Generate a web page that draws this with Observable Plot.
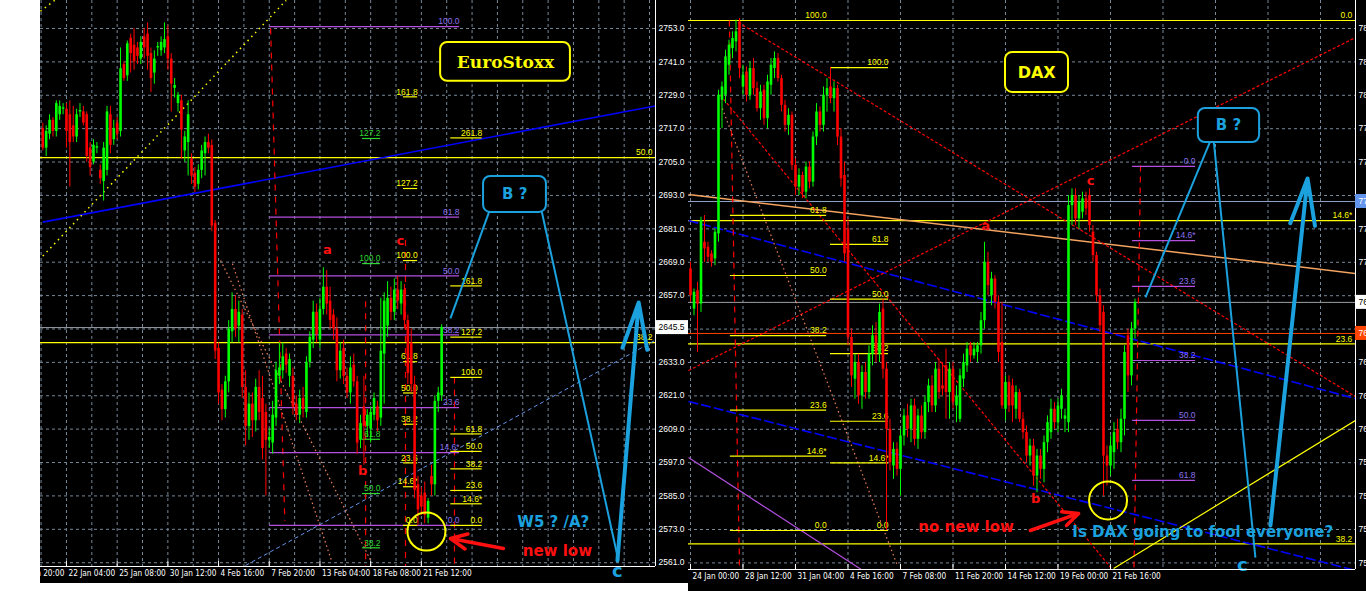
<!DOCTYPE html>
<html>
<head>
<meta charset="utf-8">
<script src="https://cdn.jsdelivr.net/npm/d3@7"></script>
<script src="https://cdn.jsdelivr.net/npm/@observablehq/plot@0.6"></script>
<style>
  html, body { margin: 0; padding: 0; background: #fff; width: 1366px; height: 591px; overflow: hidden; }
  #es  { position: absolute; left: 40px;  top: 0; width: 648px; height: 583px; background: #000; overflow: hidden; }
  #dax { position: absolute; left: 688px; top: 0; width: 720px; height: 591px; background: #000; overflow: hidden; }
  svg { display: block; }
</style>
</head>
<body>
<div id="es"></div>
<div id="dax"></div>
<script>
// ---------------- EuroStoxx 50, H4 bars ----------------
const esOpen = [
  2717,2710,2715,2720,2716,2722,2724,2724,2722,2718,2714,2723,2723,2722,2710,2705,2710,2702,2698,2702,
  2722,2713,2719,2716,2740,2736,2749.5,2747,2746,2742,2750,2751,2744,2737,2746,2745,2746,2750,2742,2731.5,
  2726,2727,2709,2712,2706,2701,2697,2702,2708,2712,2711,2683,2638,2623,2616,2626,2644,2652,2646,2650,
  2624,2610,2618,2612,2624,2620,2615,2605,2604,2613,2628,2630,2636,2628,2628,2618,2614,2620,2615,2633,
  2641,2651,2641,2652,2660,2655,2650,2645,2630,2638,2628,2622,2632,2626,2605,2617,2610,2609,2614,2617,
  2613,2636,2646,2656,2651,2659,2654,2659,2648,2640,2625,2589,2585,2586,2577,2592,2589,2619,2621
];
const esHigh = [
  2719,2718,2722,2721,2727,2727,2726,2726,2727,2725,2724,2726,2725,2723,2712,2713,2712,2704,2712,2725,
  2725,2720,2721,2746,2741,2748.5,2751,2753,2748,2750,2753,2755,2746,2745,2748,2750,2755,2754,2744,2735,
  2730,2729,2716,2727,2708,2703,2704,2711,2714,2715,2713,2684,2640,2625,2628,2648,2658,2657,2655,2652,
  2630,2622,2622,2627,2630,2628,2618,2609,2619,2633,2640,2640,2638,2636,2631,2621,2623,2624,2635,2644,
  2655,2654,2656,2667,2666,2660,2652,2649,2640,2641,2631,2635,2636,2628,2614,2628,2616,2617,2622,2619,
  2656,2658,2662,2660,2663,2664,2662,2661,2650,2645,2628,2592,2588,2590,2584,2596,2621,2624,2646.5
];
const esLow = [
  2709,2707,2713,2714,2714,2720,2722,2710,2696,2712,2712,2721,2718,2705,2700,2704,2708,2697,2691,2700,
  2708,2711,2713,2714,2734,2734,2737,2738,2740,2740,2742,2738,2730,2733,2743,2743,2744,2738,2723,2728,
  2723,2706,2705,2700,2697,2694,2695,2699,2700,2708,2680,2634,2618,2612,2613,2622,2640,2642,2640,2620,
  2603,2605,2606,2608,2612,2598,2585,2602,2600,2610,2625,2627,2629,2624,2614,2612,2611,2613,2613,2631,
  2638,2640,2638,2650,2650,2645,2641,2626,2627,2625,2620,2618,2624,2600,2602,2596,2606,2604,2612,2608,
  2610,2618,2642,2648,2648,2652,2650,2645,2625,2622,2584,2574.4,2578,2575,2575,2585,2585,2615,2619
];
const esClose = [
  2710,2716,2720,2716,2726,2725,2724.5,2716,2712,2714,2722,2723.5,2719,2707,2703,2711,2710.5,2699,2710,2723,
  2711,2717,2715,2738.5,2735,2747.5,2744,2741,2743,2748,2746,2743,2735,2742,2746.5,2748,2749,2742,2733,2732.5,
  2729,2716.5,2714,2722,2700,2696,2702,2709,2712,2710,2682,2637,2622,2616,2626,2645,2652,2645,2651,2624,
  2610,2618,2612,2624,2615,2602,2605,2606,2614,2630,2631,2635,2632,2634,2617,2614,2620,2616,2633,2642,
  2651,2643,2652,2660,2654,2648,2645,2630,2637,2628,2622,2631,2626,2604,2611,2610,2614,2615,2620,2612,
  2637,2655,2656,2651,2659,2655,2659,2648,2629,2625,2587,2580,2581,2578,2583,2589,2619,2622,2645.5
];
const esTimeLabels = ["18 Jan 20:00","22 Jan 04:00","25 Jan 08:00","30 Jan 12:00","4 Feb 16:00","7 Feb 20:00","13 Feb 04:00","18 Feb 08:00","21 Feb 12:00"];
const esTimeBars = [-8, 7, 22, 37, 52, 67, 82, 97, 112];
const esPriceTicks = [2753,2741,2729,2717,2705,2693,2681,2669,2657,2645,2633,2621,2609,2597,2585,2573,2561];

// ---------------- DAX, H4 bars ----------------
const daxOpen = [
  7696,7672,7683,7675,7712,7709,7705,7702,7717,7797,7800,7818,7828,7832,7844,7805,7814,7800,7816,7804,
  7792,7803,7786,7806,7816,7822,7810,7794,7782,7788,7758,7745,7752,7742,7757,7748,7775,7790,7782,7800,
  7805,7798,7804,7775,7752,7720,7655,7630,7640,7620,7634,7622,7645,7656,7645,7672,7636,7600,7578,7588,
  7576,7596,7608,7600,7614,7594,7608,7598,7616,7626,7614,7636,7626,7638,7622,7636,7614,7606,7630,7638,
  7650,7644,7646,7650,7665,7700,7680,7690,7676,7652,7612,7628,7626,7612,7622,7606,7598,7584,7590,7572,
  7584,7576,7592,7598,7612,7604,7612,7606,7604,7734,7740,7726,7730,7738,7740,7718,7704,7680,7670,7584,
  7578,7586,7600,7592,7606,7656,7632,7660
];
const daxHigh = [
  7700,7684,7688,7727,7728,7712,7707,7720,7803,7808,7827,7833,7838,7845,7846,7818,7817,7820,7822,7808,
  7806,7806,7812,7822,7826,7825,7812,7797,7792,7790,7762,7756,7754,7760,7760,7778,7795,7793,7805,7810,
  7816.6,7808,7806,7780,7760,7726,7660,7645,7645,7638,7640,7650,7662,7664,7675,7678,7640,7606,7592,7592,
  7600,7612,7615,7618,7618,7612,7614,7620,7630,7632,7640,7642,7640,7648,7640,7640,7626,7636,7645,7652,
  7652,7652,7652,7670,7712,7706,7694,7692,7680,7676,7632,7632,7630,7626,7624,7610,7602,7594,7594,7588,
  7588,7596,7608,7618,7616,7618,7624,7612,7740,7744,7744,7740,7742,7742,7744,7722,7706,7684,7674,7590,
  7596,7604,7606,7612,7650,7660,7664,7678
];
const daxLow = [
  7676,7668,7646,7670,7700,7700,7697,7698,7712,7780,7795,7812,7822,7826,7810,7800,7796,7797,7800,7790,
  7785,7782,7780,7800,7810,7808,7790,7778,7776,7755,7740,7740,7738,7738,7744,7745,7770,7778,7778,7790,
  7795,7790,7770,7745,7700,7650,7625,7618,7615,7612,7618,7618,7638,7640,7640,7630,7539.4,7575,7570,7572,
  7560,7590,7595,7592,7590,7588,7594,7594,7610,7610,7610,7618,7620,7606,7606,7612,7604,7604,7625,7634,
  7640,7642,7640,7645,7660,7680,7674,7672,7640,7612,7605,7610,7604,7606,7604,7594,7580,7578,7566,7562,
  7570,7568,7586,7594,7600,7598,7606,7598,7598,7722,7722,7720,7726,7728,7718,7700,7676,7658,7560,7566,
  7572,7576,7588,7586,7596,7622,7626,7654
];
const daxClose = [
  7680,7682,7675,7725,7708,7703,7700,7718,7800,7805,7823,7830,7834,7838,7816,7812,7800,7816,7804,7792,
  7802,7786,7808,7818,7822,7810,7794,7782,7788,7758,7745,7752,7742,7757,7748,7775,7790,7782,7800,7804,
  7798,7804,7775,7750,7705,7655,7632,7640,7620,7634,7622,7645,7656,7645,7670,7636,7600,7580,7588,7576,
  7596,7608,7600,7614,7594,7608,7598,7616,7626,7614,7636,7622,7624,7622,7636,7616,7620,7632,7640,7648,
  7644,7648,7650,7665,7700,7686,7690,7676,7646,7614,7628,7614,7614,7622,7606,7598,7584,7590,7572,7584,
  7576,7592,7604,7612,7604,7614,7620,7608,7734,7740,7726,7736,7738,7732,7722,7704,7680,7662,7584,7578,
  7590,7598,7592,7606,7646,7632,7660,7676
];
const daxTimeLabels = ["24 Jan 00:00","28 Jan 12:00","31 Jan 04:00","4 Feb 16:00","7 Feb 08:00","11 Feb 20:00","14 Feb 12:00","19 Feb 00:00","21 Feb 16:00"];
const daxTimeBars = [0, 15, 30, 45, 60, 75, 90, 105, 120];
const daxPriceTicks = [7840,7820,7800,7780,7760,7740,7720,7700,7680,7660,7640,7620,7600,7580,7560,7540,7520];

// Fibonacci level sets
const fibLevels = [0, 14.6, 23.6, 38.2, 50, 61.8, 100];
const fibExtLevels = [0, 14.6, 23.6, 38.2, 50, 61.8, 100, 127.2, 161.8, 261.8];

// ---------------- shared drawing helpers ----------------
const UP = "#00ff00", DOWN = "#ff0000", GRID = "#778899";
const NOTE_BLUE = "#1ba1de", NOTE_RED = "#ff1010", YELLOW = "#ffff00";
const PURPLE_LINE = "#b44fe0", PURPLE_TEXT = "#8c72f0", GREEN_FIB = "#2ed82e";
const AXIS_FONT = "Liberation Sans, Arial, sans-serif";
const NOTE_FONT = "DejaVu Sans, Verdana, sans-serif";

// time labels use a narrow face when one is installed, otherwise a smaller regular one
function fontInstalled(name) {
  const ctx = document.createElement("canvas").getContext("2d");
  ctx.font = "20px monospace";
  const base = ctx.measureText("22 Jan 04:00").width;
  ctx.font = `20px '${name}', monospace`;
  return ctx.measureText("22 Jan 04:00").width !== base;
}
const TIME_FONT = fontInstalled("Liberation Sans Narrow")
  ? {fontFamily: "Liberation Sans Narrow", fontSize: 9.5}
  : fontInstalled("DejaVu Sans Condensed")
    ? {fontFamily: "DejaVu Sans Condensed", fontSize: 8.2}
    : {fontFamily: AXIS_FONT, fontSize: 8};

const toRows = (o, h, l, c) => o.map((v, i) => ({i, open: v, high: h[i], low: l[i], close: c[i]}));
const fibText = l => (l === 14.6 ? "14.6*" : l.toFixed(1));

function candles(rows) {
  const col = d => (d.close >= d.open ? UP : DOWN);
  return [
    Plot.ruleX(rows, {x: "i", y1: "low", y2: "high", stroke: col, strokeWidth: 1}),
    Plot.ruleX(rows, {x: "i", y1: "open", y2: "close", stroke: col, strokeWidth: 2.6})
  ];
}

function fib({from, to, p0, p100, levels, line, text, labelAt}) {
  const rows = levels.map(l => ({lvl: l, p: p0 + (p100 - p0) * l / 100}));
  return [
    Plot.ruleY(rows, {y: "p", x1: () => from, x2: () => to, stroke: line, strokeWidth: 1.2, clip: true}),
    Plot.text(rows, {y: "p", x: () => labelAt ?? to, text: d => fibText(d.lvl), textAnchor: "end", dy: -5,
      fill: text, fontSize: 8.5, fontFamily: AXIS_FONT})
  ];
}

function trend(lines) {
  return lines.map(l => Plot.link([l], {x1: "x1", y1: "y1", x2: "x2", y2: "y2", stroke: l.stroke,
    strokeWidth: l.width ?? 1, strokeDasharray: l.dash ?? null, clip: true}));
}

function notes(list) {
  return list.map(n => Plot.text([n], {x: "i", y: "p", text: "text", fill: n.color, fontSize: n.size ?? 15,
    fontWeight: "bold", fontFamily: n.font ?? NOTE_FONT, textAnchor: n.anchor ?? "middle"}));
}

function boxes(list) {
  return list.map(b => Plot.rect([b], {x1: "x1", x2: "x2", y1: "y1", y2: "y2", fill: "black",
    stroke: b.stroke, strokeWidth: 2, rx: 7}));
}

// One chart window: grid, marks, time axis below and price axis on the right
function panel({el, width, height, marginRight, marginBottom, xDomain, yDomain, gridBars, priceTicks,
                timeBars, timeLabels, highlights, marks, labelDy}) {
  const frameW = width - marginRight, frameH = height - marginBottom;
  const barPx = frameW / (xDomain[1] - xDomain[0]);
  const ptPx = frameH / (yDomain[1] - yDomain[0]);
  const [yMin] = yDomain, xMax = xDomain[1];
  const hl = highlights.map(h => ({...h, x1: xMax, x2: xMax + marginRight / barPx,
    y1: h.p - 7 / ptPx, y2: h.p + 7 / ptPx}));
  // price labels hidden behind a highlighted price box are left out
  const shownTicks = priceTicks.filter(t => hl.every(h => Math.abs(t - h.p) * ptPx > 9));
  const chart = Plot.plot({
    width, height, marginLeft: 0, marginTop: 0, marginRight, marginBottom,
    x: {domain: xDomain, axis: null},
    y: {domain: yDomain, axis: null},
    color: {type: "identity"},
    style: {background: "black", overflow: "hidden"},
    marks: [
      Plot.ruleY(priceTicks, {stroke: GRID, strokeDasharray: "3,3"}),
      Plot.ruleX(gridBars, {stroke: GRID, strokeDasharray: "3,3"}),
      ...marks,
      Plot.ruleY([yMin], {stroke: "white"}),
      Plot.ruleX([xMax], {stroke: "white"}),
      Plot.ruleX(timeBars, {x: d => d, y1: () => yMin, y2: () => yMin + 5 / ptPx, stroke: "white"}),
      Plot.text(timeBars, {x: d => d, text: (d, i) => timeLabels[i], frameAnchor: "bottom", dy: labelDy, dx: 2,
        textAnchor: "start", fill: "white", ...TIME_FONT}),
      Plot.text(shownTicks, {y: d => d, text: d => d.toFixed(1), frameAnchor: "right", dx: 3,
        textAnchor: "start", fill: "white", fontSize: 8.5, fontFamily: AXIS_FONT}),
      Plot.rect(hl, {x1: "x1", x2: "x2", y1: "y1", y2: "y2", fill: "bg"}),
      Plot.text(hl, {x: "x1", y: "p", text: d => d.p.toFixed(1), dx: 3, textAnchor: "start", fill: "fg",
        fontSize: 8.5, fontFamily: AXIS_FONT})
    ]
  });
  document.getElementById(el).append(chart);
}

// ---------------- EuroStoxx panel ----------------
{
  const rows = toRows(esOpen, esHigh, esLow, esClose);
  const last = esClose[esClose.length - 1];
  const xDomain = [-0.68, 181.27], yDomain = [2559.63, 2763.06];
  panel({
    el: "es", width: 648, height: 583, marginRight: 33, marginBottom: 17, labelDy: 9.5,
    xDomain, yDomain,
    gridBars: d3.range(-0.5, 182, 7.5),
    priceTicks: esPriceTicks, timeBars: esTimeBars, timeLabels: esTimeLabels,
    highlights: [{p: last, bg: "white", fg: "black"}],
    marks: [
      Plot.ruleY([last], {stroke: "#9aa0a6"}),
      ...fib({from: xDomain[0], to: xDomain[1], p0: 2424.8, p100: 2988.4, levels: [38.2, 50],
              line: YELLOW, text: YELLOW, labelAt: 180.4}),
      ...trend([
        {x1: 0, y1: 2683.4, x2: 181.3, y2: 2725.2, stroke: "#0000ff", width: 1.6},
        {x1: 0, y1: 2671.2, x2: 72, y2: 2763.1, stroke: YELLOW, width: 1.5, dash: "1.5,4"},
        {x1: -0.7, y1: 2759.2, x2: 3.5, y2: 2763.1, stroke: YELLOW, width: 1.5, dash: "1.5,4"},
        {x1: 60, y1: 2560, x2: 181.3, y2: 2641, stroke: "#6495ed", width: 1, dash: "4,3"},
        {x1: 67.4, y1: 2753, x2: 71.6, y2: 2576, stroke: DOWN, width: 1.2, dash: "6,6"},
        {x1: 95.5, y1: 2655, x2: 95.5, y2: 2559.6, stroke: DOWN, width: 1.2, dash: "6,6"},
        {x1: 107.3, y1: 2677, x2: 107.3, y2: 2559.6, stroke: DOWN, width: 1.2, dash: "6,6"},
        {x1: 121.8, y1: 2627.6, x2: 121.8, y2: 2559.6, stroke: DOWN, width: 1.2, dash: "6,6"},
        {x1: 56.1, y1: 2668.5, x2: 85.4, y2: 2561.8, stroke: "#f0805a", width: 1.2, dash: "1.5,3"},
        {x1: 52.6, y1: 2669.6, x2: 97, y2: 2561.8, stroke: "#f0805a", width: 1.2, dash: "1.5,3"}
      ]),
      ...fib({from: 67.1, to: 123.3, p0: 2574.4, p100: 2753.7, levels: fibLevels, line: PURPLE_LINE, text: PURPLE_TEXT}),
      ...fib({from: 94.6, to: 99.9, p0: 2503.2, p100: 2668.5, levels: [38.2, 50, 61.8, 100, 127.2], line: GREEN_FIB, text: GREEN_FIB}),
      ...fib({from: 106.7, to: 110.9, p0: 2574.4, p100: 2669.6, levels: fibExtLevels.slice(0, 9), line: YELLOW, text: YELLOW}),
      ...fib({from: 120.7, to: 130, p0: 2574.4, p100: 2627.6, levels: fibExtLevels, line: YELLOW, text: YELLOW}),
      ...candles(rows),
      ...trend([
        {x1: 132.2, y1: 2687.6, x2: 120.6, y2: 2648.8, stroke: NOTE_BLUE, width: 2},
        {x1: 146.9, y1: 2691.2, x2: 170.3, y2: 2561.8, stroke: NOTE_BLUE, width: 2}
      ]),
      ...boxes([
        {x1: 117.7, x2: 156.1, y1: 2734.0, y2: 2748.0, stroke: YELLOW},
        {x1: 130.4, x2: 149.0, y1: 2686.9, y2: 2699.8, stroke: NOTE_BLUE}
      ]),
      Plot.dot([{i: 113.5, p: 2572.2}], {x: "i", y: "p", r: 19, stroke: YELLOW, strokeWidth: 2}),
      Plot.arrow([{x1: 170, y1: 2561.8, x2: 176.3, y2: 2654.5}], {x1: "x1", y1: "y1", x2: "x2", y2: "y2",
        stroke: NOTE_BLUE, strokeWidth: 4, headLength: 18, headAngle: 30}),
      Plot.arrow([{x1: 136.3, y1: 2566.1, x2: 120.6, y2: 2569.7}], {x1: "x1", y1: "y1", x2: "x2", y2: "y2",
        stroke: NOTE_RED, strokeWidth: 3.5, headLength: 12, headAngle: 50}),
      ...notes([
        {i: 84.2, p: 2673.6, text: "a", color: NOTE_RED, size: 13},
        {i: 94.6, p: 2594.1, text: "b", color: NOTE_RED, size: 13},
        {i: 105.8, p: 2676.8, text: "c", color: NOTE_RED, size: 13},
        {i: 136.9, p: 2740.8, text: "EuroStoxx", color: YELLOW, size: 17, font: "DejaVu Serif, serif"},
        {i: 139.6, p: 2693.3, text: "B ?", color: NOTE_BLUE, size: 15},
        {i: 140.4, p: 2575.5, text: "W5 ? /A?", color: NOTE_BLUE, size: 15, anchor: "start"},
        {i: 142, p: 2565, text: "new low", color: NOTE_RED, size: 15, anchor: "start"},
        {i: 170, p: 2558, text: "c", color: NOTE_BLUE, size: 18}
      ])
    ]
  });
}

// ---------------- DAX panel ----------------
{
  const rows = toRows(daxOpen, daxHigh, daxLow, daxClose);
  const last = daxClose[daxClose.length - 1];
  const xDomain = [-0.5714, 190], yDomain = [7516.05, 7856.77];
  panel({
    el: "dax", width: 720, height: 591, marginRight: 53, marginBottom: 22, labelDy: 9,
    xDomain, yDomain,
    gridBars: d3.range(0, 191, 15),
    priceTicks: daxPriceTicks, timeBars: daxTimeBars, timeLabels: daxTimeLabels,
    highlights: [
      {p: 7736.4, bg: "#6495ed", fg: "white"},
      {p: last, bg: "white", fg: "black"},
      {p: 7657.4, bg: "#ff4500", fg: "white"}
    ],
    marks: [
      Plot.ruleY([7736.4], {stroke: "#8fa3c8"}),
      Plot.ruleY([last], {stroke: "#9aa0a6"}),
      Plot.ruleY([7657.4], {stroke: "#ff4500"}),
      ...fib({from: xDomain[0], to: xDomain[1], p0: 7844.8, p100: 7024.3, levels: [0, 14.6, 23.6, 38.2],
              line: YELLOW, text: YELLOW, labelAt: 189.1}),
      ...trend([
        {x1: -0.57, y1: 7740.6, x2: 190, y2: 7693.3, stroke: "#f4a460", width: 1.5},
        {x1: -0.57, y1: 7725.0, x2: 190, y2: 7618.4, stroke: "#0000ff", width: 1.6, dash: "10,3"},
        {x1: -0.57, y1: 7616.7, x2: 190, y2: 7515.5, stroke: "#0000ff", width: 1.6, dash: "10,3"},
        {x1: -0.57, y1: 7583.1, x2: 51.4, y2: 7512.5, stroke: PURPLE_LINE, width: 1.2},
        {x1: 13.7, y1: 7843.6, x2: 190, y2: 7619.6, stroke: DOWN, width: 1.2, dash: "3,2"},
        {x1: -0.57, y1: 7635.2, x2: 190, y2: 7834.6, stroke: DOWN, width: 1.2, dash: "3,2"},
        {x1: 8.57, y1: 7799.9, x2: 125.7, y2: 7502.9, stroke: DOWN, width: 1.2, dash: "3,2"},
        {x1: 11.1, y1: 7844.8, x2: 14, y2: 7517.9, stroke: DOWN, width: 1.2, dash: "6,5"},
        {x1: 128.6, y1: 7758, x2: 126.6, y2: 7502.9, stroke: DOWN, width: 1.2, dash: "6,5"},
        {x1: 9.1, y1: 7792.1, x2: 59.1, y2: 7518.5, stroke: "#f0805a", width: 1.2, dash: "1.5,3"},
        {x1: 120.9, y1: 7516.7, x2: 190, y2: 7605.3, stroke: YELLOW, width: 1.2}
      ]),
      ...fib({from: 11.4, to: 38.9, p0: 7539.4, p100: 7844.8, levels: fibLevels, line: YELLOW, text: YELLOW}),
      ...fib({from: 40, to: 56.6, p0: 7539.4, p100: 7816.6, levels: fibLevels, line: YELLOW, text: YELLOW}),
      ...fib({from: 126.3, to: 144.3, p0: 7757.4, p100: 7453.2, levels: fibLevels.slice(0, 6), line: PURPLE_LINE, text: PURPLE_TEXT}),
      ...candles(rows),
      ...trend([
        {x1: 148.6, y1: 7773, x2: 130, y2: 7679, stroke: NOTE_BLUE, width: 2},
        {x1: 149.4, y1: 7774.7, x2: 161.4, y2: 7523.2, stroke: NOTE_BLUE, width: 2}
      ]),
      ...boxes([
        {x1: 90.0, x2: 108.0, y1: 7801.7, y2: 7825.6, stroke: YELLOW},
        {x1: 145.1, x2: 162.6, y1: 7771.7, y2: 7792.1, stroke: NOTE_BLUE}
      ]),
      Plot.dot([{i: 119.3, p: 7557.4}], {x: "i", y: "p", r: 19, stroke: YELLOW, strokeWidth: 2}),
      Plot.arrow([{x1: 165.7, y1: 7542.4, x2: 176.3, y2: 7750.2}], {x1: "x1", y1: "y1", x2: "x2", y2: "y2",
        stroke: NOTE_BLUE, strokeWidth: 4, headLength: 18, headAngle: 30}),
      Plot.arrow([{x1: 97.1, y1: 7539.4, x2: 110.9, y2: 7549.6}], {x1: "x1", y1: "y1", x2: "x2", y2: "y2",
        stroke: NOTE_RED, strokeWidth: 3.5, headLength: 12, headAngle: 50}),
      ...notes([
        {i: 84.3, p: 7722.0, text: "a", color: NOTE_RED, size: 13},
        {i: 98.6, p: 7558.6, text: "b", color: NOTE_RED, size: 13},
        {i: 114.3, p: 7749.0, text: "c", color: NOTE_RED, size: 13},
        {i: 98.9, p: 7813.7, text: "DAX", color: YELLOW, size: 16},
        {i: 153.7, p: 7781.9, text: "B ?", color: NOTE_BLUE, size: 15},
        {i: 65.1, p: 7541.2, text: "no new low", color: NOTE_RED, size: 15, anchor: "start"},
        {i: 109.1, p: 7538.2, text: "Is DAX going to fool everyone?", color: NOTE_BLUE, size: 15, anchor: "start"},
        {i: 157.7, p: 7518.5, text: "c", color: NOTE_BLUE, size: 18}
      ])
    ]
  });
}
</script>
</body>
</html>
